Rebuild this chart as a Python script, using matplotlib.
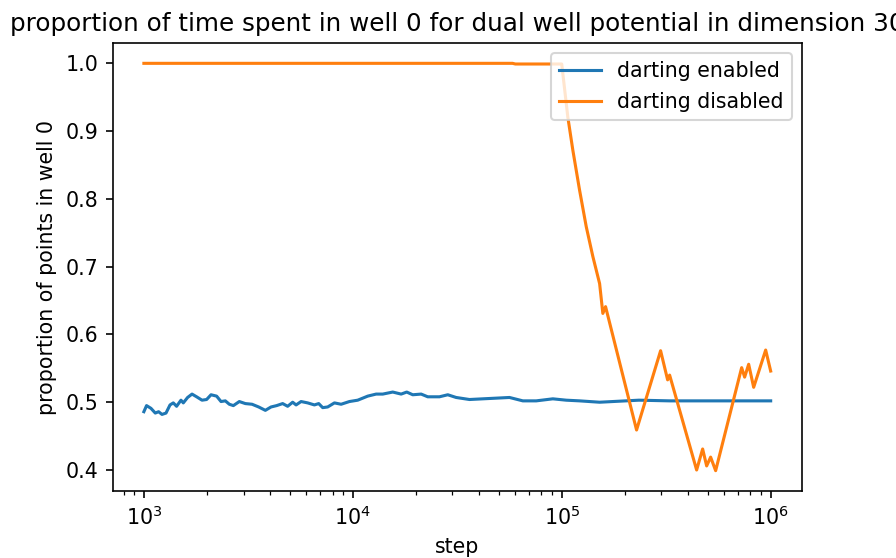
import matplotlib
matplotlib.use('Agg')
import matplotlib.pyplot as plt

# darting enabled: step, proportion of points in well 0
steps_on = [1000, 1030, 1081, 1134, 1176, 1221, 1276, 1334, 1383, 1434,
            1505, 1544, 1619, 1700, 1788, 1898, 1997, 2096, 2229, 2340,
            2454, 2564, 2681, 2863, 3059, 3294, 3543, 3814, 4062, 4320,
            4616, 4877, 5154, 5352, 5655, 6081, 6549, 6866, 7176, 7582,
            8166, 8790, 9632, 10556, 11788, 12929, 13911, 15530, 17034, 18120,
            19360, 21240, 22840, 25980, 28480, 31230, 36170, 41900, 48570, 56230,
            65130, 75480, 90660, 105100, 121700, 151800, 234100, 328300, 569800, 1000000]
prop_on = [0.486, 0.495, 0.491, 0.484, 0.486, 0.482, 0.484, 0.496, 0.499, 0.494,
           0.503, 0.499, 0.507, 0.512, 0.508, 0.503, 0.504, 0.511, 0.509, 0.501,
           0.502, 0.497, 0.495, 0.501, 0.498, 0.497, 0.493, 0.488, 0.493, 0.495,
           0.498, 0.494, 0.500, 0.496, 0.501, 0.499, 0.496, 0.498, 0.492, 0.493,
           0.499, 0.497, 0.501, 0.503, 0.509, 0.512, 0.512, 0.515, 0.512, 0.515,
           0.511, 0.512, 0.508, 0.508, 0.511, 0.507, 0.504, 0.505, 0.506, 0.507,
           0.502, 0.502, 0.505, 0.503, 0.502, 0.500, 0.503, 0.502, 0.502, 0.502]

# darting disabled
steps_off = [1000, 58130, 60000, 100000, 106900, 113000, 121700, 131000, 140900, 151800,
             157300, 162100, 228100, 297300, 321200, 328400, 442200, 472500, 493800, 516000,
             545300, 726300, 750600, 784700, 829100, 946400, 1000000]
prop_off = [1.0, 1.0, 0.999, 0.999, 0.921, 0.872, 0.813, 0.759, 0.715, 0.675,
            0.631, 0.641, 0.459, 0.576, 0.533, 0.540, 0.400, 0.431, 0.406, 0.419,
            0.399, 0.551, 0.537, 0.556, 0.522, 0.577, 0.546]

fig = plt.figure(figsize=(896 / 148, 558 / 148), dpi=148)
ax = fig.add_axes([0.1256, 0.120, 0.7695, 0.803])

ax.plot(steps_on, prop_on, label='darting enabled')
ax.plot(steps_off, prop_off, label='darting disabled')
ax.set_xscale('log')
ax.set_title('proportion of time spent in well 0 for dual well potential in dimension 30')
ax.set_xlabel('step')
ax.set_ylabel('proportion of points in well 0')
ax.legend(loc='upper right')

fig.savefig('out.png', dpi=148)
